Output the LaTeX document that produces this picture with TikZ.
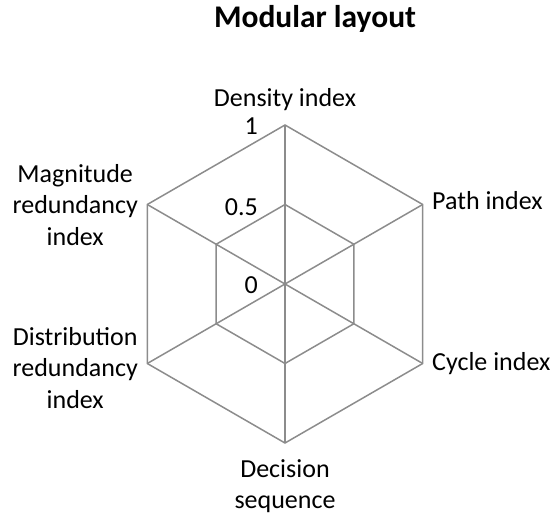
\documentclass[tikz,border=0pt]{standalone}
\usepackage{fontspec}
\setmainfont{Carlito}
\usetikzlibrary{positioning, calc}
\tikzset{
    %grid lines of the radar
    web/.style={
           draw=black!45,
           line width=1.5pt},
    %axis captions
    axlab/.style={
           font=\fontsize{26}{31.5}\selectfont,
           align=center,
           inner sep=0pt},
    %scale values
    scaleval/.style={
           font=\fontsize{26}{31.5}\selectfont,
           inner sep=0pt}
}
\begin{document}
\begin{tikzpicture}[x=1pt,y=1pt]
\useasboundingbox (0,0) rectangle (554,-516);

\coordinate (O) at (285,-284);

% axis ends and half-way points
\foreach \a/\n in {90/1,30/2,-30/3,-90/4,-150/5,150/6}{
  \coordinate (V\n) at ($(O)+(\a:159)$);
  \coordinate (H\n) at ($(O)+(\a:79.5)$);
}

\draw[web] (V1) -- (V2) -- (V3) -- (V4) -- (V5) -- (V6) -- cycle;
\draw[web] (H1) -- (H2) -- (H3) -- (H4) -- (H5) -- (H6) -- cycle;
\foreach \n in {1,...,6}
  \draw[web] (O) -- (V\n);

\node[font=\fontsize{31.5}{38}\selectfont\bfseries, inner sep=0pt, anchor=base] (title) at (315,-28) {Modular layout};

\node[axlab, anchor=base] (dens) at (285,-107) {Density index};
\node[axlab, anchor=base west] (path) at (432,-209) {Path index};
\node[axlab, anchor=base west] (cyc) at (432,-370) {Cycle index};
\node[axlab] (dec) at (285,-486) {Decision\\sequence};
\node[axlab, anchor=east] (dist) at (138,-368) {Distribution\\redundancy\\index};
\node[axlab, anchor=east] (magn) at (138,-205) {Magnitude\\redundancy\\index};

\node[scaleval, anchor=base east] (t1) at (258,-135) {1};
\node[scaleval, anchor=base east] (t05) at (258,-215) {0.5};
\node[scaleval, anchor=base east] (t0) at (258,-293) {0};

\end{tikzpicture}
\end{document}
